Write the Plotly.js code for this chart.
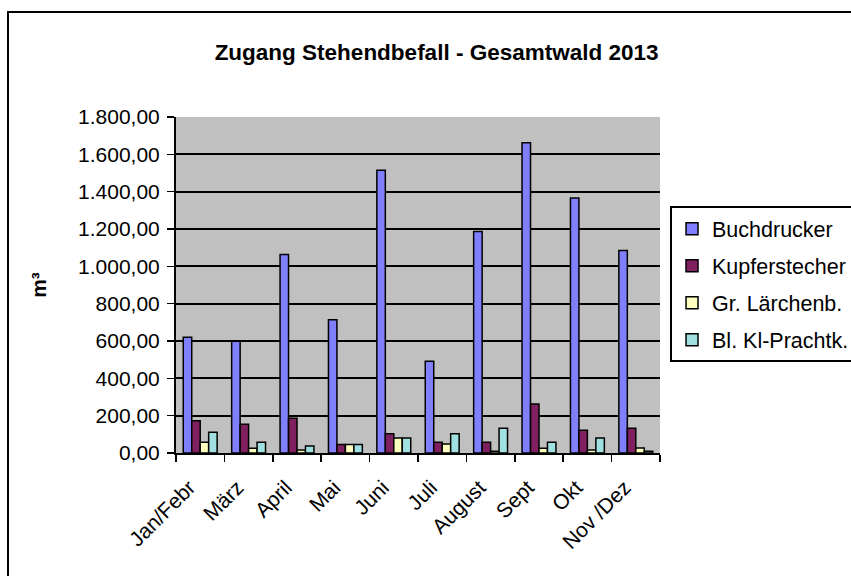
<!DOCTYPE html>
<html>
<head>
<meta charset="utf-8">
<script src="https://cdn.plot.ly/plotly-3.0.1.min.js"></script>
<style>
html,body{margin:0;padding:0;background:#fff;}
#chart{width:851px;height:576px;}
</style>
</head>
<body>
<div id="chart"></div>
<script>
const categories = ['Jan/Febr','März','April','Mai','Juni','Juli','August','Sept','Okt','Nov /Dez'];
const seriesNames = ['Buchdrucker','Kupferstecher','Gr. Lärchenb.','Bl. Kl-Prachtk.'];
const buchdrucker   = [620, 598, 1064, 714, 1515, 492, 1186, 1662, 1366, 1085];
const kupferstecher = [173, 154, 186, 46, 103, 58, 58, 262, 122, 133];
const laerchenb     = [58, 25, 16, 46, 80, 48, 9, 25, 16, 27];
const prachtk       = [111, 58, 37, 46, 80, 103, 133, 58, 80, 9];
const colors = ['#8080FF','#802060','#FFFFC0','#A0E0E0'];
const values = [buchdrucker, kupferstecher, laerchenb, prachtk];

const FONT = 'Liberation Sans, Arial, Helvetica, sans-serif';

const traces = values.map((v, i) => ({
  type: 'bar',
  name: seriesNames[i],
  x: categories,
  y: v,
  legendgroup: 'g' + i,
  marker: {color: colors[i], line: {color: '#000', width: 1.5}},
  hoverinfo: 'skip'
}));

const layout = {
  width: 851, height: 576,
  margin: {l: 176, r: 191, t: 117, b: 123, pad: 0, autoexpand: false},
  paper_bgcolor: '#fff',
  plot_bgcolor: '#C0C0C0',
  separators: ',.',
  font: {family: FONT, size: 21, color: '#000'},
  title: {
    text: '<b>Zugang Stehendbefall - Gesamtwald 2013</b>',
    font: {family: FONT, size: 22.5, color: '#000'},
    x: 0.513, xanchor: 'center', xref: 'container',
    y: 0.91, yanchor: 'middle', yref: 'container'
  },
  barmode: 'group',
  bargap: 0.3,
  bargroupgap: 0,
  showlegend: true,
  legend: {
    x: 1.0207, xanchor: 'left', y: 0.734, yanchor: 'top',
    bgcolor: '#fff', bordercolor: '#000', borderwidth: 2,
    font: {family: FONT, size: 21.5, color: '#000'},
    tracegroupgap: 6
  },
  xaxis: {
    type: 'category',
    tickangle: -45,
    tickson: 'boundaries',
    ticks: 'outside', ticklen: 7, tickwidth: 1.5, tickcolor: '#000',
    ticklabelstandoff: 12,
    ticklabelshift: -11,
    showline: true, linecolor: '#000', linewidth: 2,
    showgrid: false, zeroline: false,
    tickfont: {family: FONT, size: 21, color: '#000'},
    fixedrange: true
  },
  yaxis: {
    range: [0, 1800],
    dtick: 200,
    tickformat: ',.2f',
    ticks: 'outside', ticklen: 7, tickwidth: 1.5, tickcolor: '#000',
    ticklabelstandoff: 3,
    showline: true, linecolor: '#000', linewidth: 2,
    showgrid: true, gridcolor: '#000', gridwidth: 1.8,
    zeroline: false,
    tickfont: {family: FONT, size: 21, color: '#000'},
    title: {text: '<b>m³</b>', font: {family: FONT, size: 21, color: '#000'}, standoff: 26},
    fixedrange: true
  },
  shapes: [{
    type: 'rect', xref: 'paper', yref: 'paper',
    x0: (8 - 176) / 484, x1: 2,
    y0: -1, y1: (453 - 12) / 336,
    line: {color: '#000', width: 2}, fillcolor: 'rgba(0,0,0,0)', layer: 'above'
  }]
};

Plotly.newPlot('chart', traces, layout, {displayModeBar: false, staticPlot: true});
</script>
</body>
</html>
